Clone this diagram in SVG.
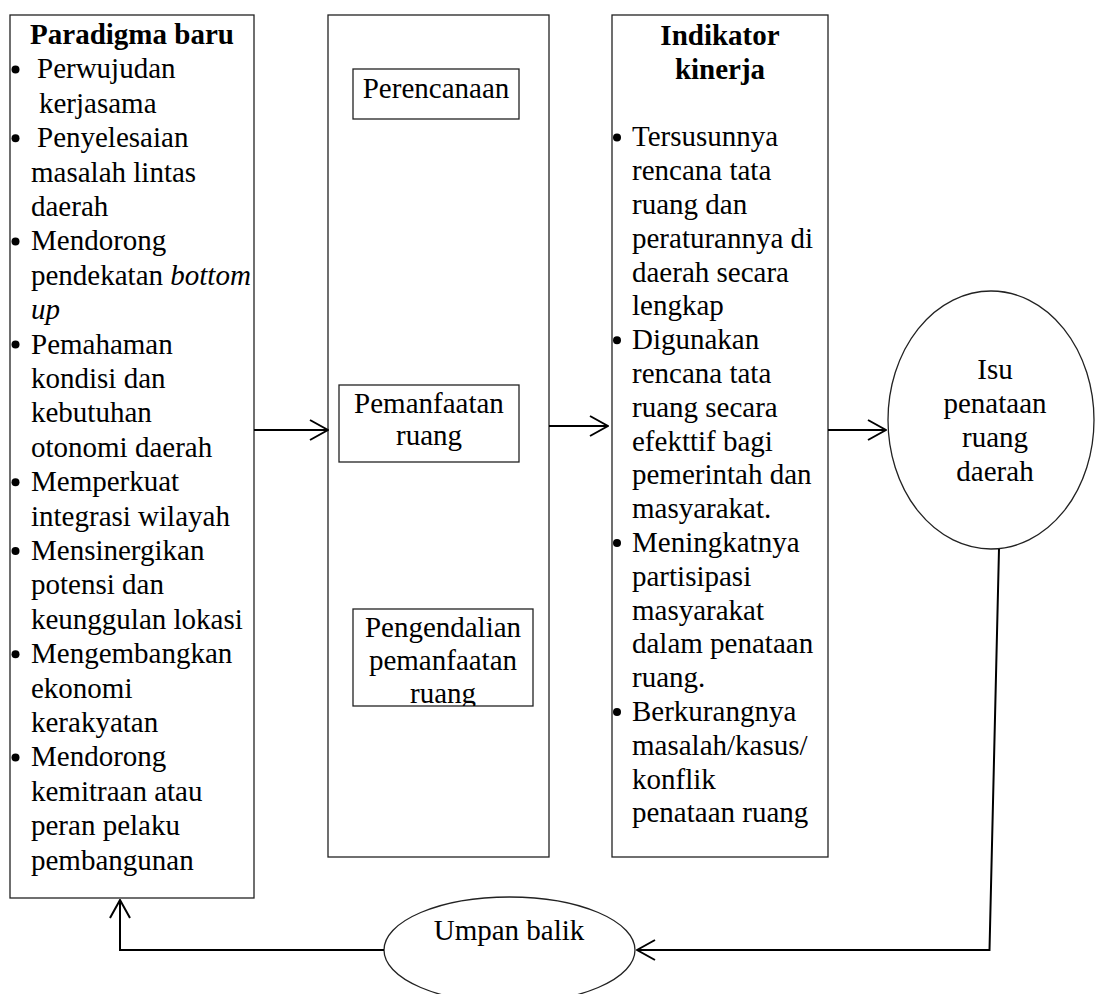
<svg xmlns="http://www.w3.org/2000/svg" width="1095" height="994" viewBox="0 0 1095 994">
  <style>
    .box { fill: #fff; stroke: #222; stroke-width: 1.3; }
    .t { font-family: "Liberation Serif", "Times New Roman", serif; font-size: 29px; fill: #000; }
    .b { font-weight: bold; }
    .c { text-anchor: middle; }
    .i { font-style: italic; }
    .dot { fill: #000; }
    .wire { fill: none; stroke: #000; stroke-width: 2; }
  </style>
  <defs>
    <marker id="open" viewBox="0 0 20 22" refX="19" refY="11" markerWidth="20" markerHeight="22" markerUnits="userSpaceOnUse" orient="auto">
      <path d="M1,1 L19,11 L1,21" fill="none" stroke="#000" stroke-width="2"/>
    </marker>
    <clipPath id="clip-control">
      <rect x="353" y="609" width="180" height="97"/>
    </clipPath>
  </defs>

  <!-- new paradigm column -->
  <g id="paradigma">
    <rect class="box" x="10" y="15" width="244" height="883"/>
    <text class="t b c" x="132" y="44">Paradigma baru</text>
    <text class="t">
      <tspan x="37" y="78.4">Perwujudan</tspan>
      <tspan x="39" y="112.8">kerjasama</tspan>
      <tspan x="37" y="147.2">Penyelesaian</tspan>
      <tspan x="31" y="181.6">masalah lintas</tspan>
      <tspan x="31" y="216">daerah</tspan>
      <tspan x="31" y="250.4">Mendorong</tspan>
      <tspan x="31" y="284.8">pendekatan <tspan class="i">bottom</tspan></tspan>
      <tspan x="31" y="319.2" class="i">up</tspan>
      <tspan x="31" y="353.6">Pemahaman</tspan>
      <tspan x="31" y="388">kondisi dan</tspan>
      <tspan x="31" y="422.4">kebutuhan</tspan>
      <tspan x="31" y="456.8">otonomi daerah</tspan>
      <tspan x="31" y="491.2">Memperkuat</tspan>
      <tspan x="31" y="525.6">integrasi wilayah</tspan>
      <tspan x="31" y="560">Mensinergikan</tspan>
      <tspan x="31" y="594.4">potensi dan</tspan>
      <tspan x="31" y="628.8">keunggulan lokasi</tspan>
      <tspan x="31" y="663.2">Mengembangkan</tspan>
      <tspan x="31" y="697.6">ekonomi</tspan>
      <tspan x="31" y="732">kerakyatan</tspan>
      <tspan x="31" y="766.4">Mendorong</tspan>
      <tspan x="31" y="800.8">kemitraan atau</tspan>
      <tspan x="31" y="835.2">peran pelaku</tspan>
      <tspan x="31" y="869.6">pembangunan</tspan>
    </text>
    <circle class="dot" cx="15.5" cy="69.4" r="4"/>
    <circle class="dot" cx="15.5" cy="138.2" r="4"/>
    <circle class="dot" cx="15.5" cy="241.4" r="4"/>
    <circle class="dot" cx="15.5" cy="344.6" r="4"/>
    <circle class="dot" cx="15.5" cy="482.2" r="4"/>
    <circle class="dot" cx="15.5" cy="551" r="4"/>
    <circle class="dot" cx="15.5" cy="654.2" r="4"/>
    <circle class="dot" cx="15.5" cy="757.4" r="4"/>
  </g>

  <!-- process column -->
  <g id="proses">
    <rect class="box" x="328" y="15" width="221" height="842"/>
  </g>
  <g id="perencanaan">
    <rect class="box" x="353" y="69" width="166" height="50"/>
    <text class="t c" x="436" y="98">Perencanaan</text>
  </g>
  <g id="pemanfaatan">
    <rect class="box" x="339" y="385" width="180" height="77"/>
    <text class="t c" x="429" y="413">Pemanfaatan</text>
    <text class="t c" x="429" y="445">ruang</text>
  </g>
  <g id="pengendalian">
    <rect class="box" x="353" y="609" width="180" height="97"/>
    <g clip-path="url(#clip-control)">
      <text class="t c" x="443" y="637">Pengendalian</text>
      <text class="t c" x="443" y="670">pemanfaatan</text>
      <text class="t c" x="443" y="703">ruang</text>
    </g>
  </g>

  <!-- performance indicators column -->
  <g id="indikator">
    <rect class="box" x="612" y="15" width="216" height="842"/>
    <text class="t b c" x="720" y="45">Indikator</text>
    <text class="t b c" x="720" y="78.8">kinerja</text>
    <text class="t">
      <tspan x="632" y="146.4">Tersusunnya</tspan>
      <tspan x="632" y="180.2">rencana tata</tspan>
      <tspan x="632" y="214">ruang dan</tspan>
      <tspan x="632" y="247.8">peraturannya di</tspan>
      <tspan x="632" y="281.6">daerah secara</tspan>
      <tspan x="632" y="315.4">lengkap</tspan>
      <tspan x="632" y="349.2">Digunakan</tspan>
      <tspan x="632" y="383">rencana tata</tspan>
      <tspan x="632" y="416.8">ruang secara</tspan>
      <tspan x="632" y="450.6">efekttif bagi</tspan>
      <tspan x="632" y="484.4">pemerintah dan</tspan>
      <tspan x="632" y="518.2">masyarakat.</tspan>
      <tspan x="632" y="552">Meningkatnya</tspan>
      <tspan x="632" y="585.8">partisipasi</tspan>
      <tspan x="632" y="619.6">masyarakat</tspan>
      <tspan x="632" y="653.4">dalam penataan</tspan>
      <tspan x="632" y="687.2">ruang.</tspan>
      <tspan x="632" y="721">Berkurangnya</tspan>
      <tspan x="632" y="754.8">masalah/kasus/</tspan>
      <tspan x="632" y="788.6">konflik</tspan>
      <tspan x="632" y="822.4">penataan ruang</tspan>
    </text>
    <circle class="dot" cx="617" cy="137.4" r="4"/>
    <circle class="dot" cx="617" cy="340.2" r="4"/>
    <circle class="dot" cx="617" cy="543" r="4"/>
    <circle class="dot" cx="617" cy="712" r="4"/>
  </g>

  <!-- issue bubble -->
  <g id="isu">
    <ellipse class="box" cx="991" cy="420" rx="103" ry="129"/>
    <text class="t c" x="995" y="379">Isu</text>
    <text class="t c" x="995" y="413">penataan</text>
    <text class="t c" x="995" y="447">ruang</text>
    <text class="t c" x="995" y="481">daerah</text>
  </g>

  <!-- feedback bubble -->
  <g id="umpan-balik">
    <ellipse class="box" cx="509.5" cy="950" rx="125.5" ry="53"/>
    <text class="t c" x="509" y="940">Umpan balik</text>
  </g>

  <!-- connectors -->
  <g id="connectors">
    <line class="wire" x1="254" y1="430" x2="328" y2="430" marker-end="url(#open)"/>
    <line class="wire" x1="549" y1="426" x2="608" y2="426" marker-end="url(#open)"/>
    <line class="wire" x1="828" y1="430" x2="886" y2="430" marker-end="url(#open)"/>
    <polyline class="wire" points="999,549 989.5,950 637,950" marker-end="url(#open)"/>
    <polyline class="wire" points="384,950 120,950 120,900" marker-end="url(#open)"/>
  </g>
</svg>
